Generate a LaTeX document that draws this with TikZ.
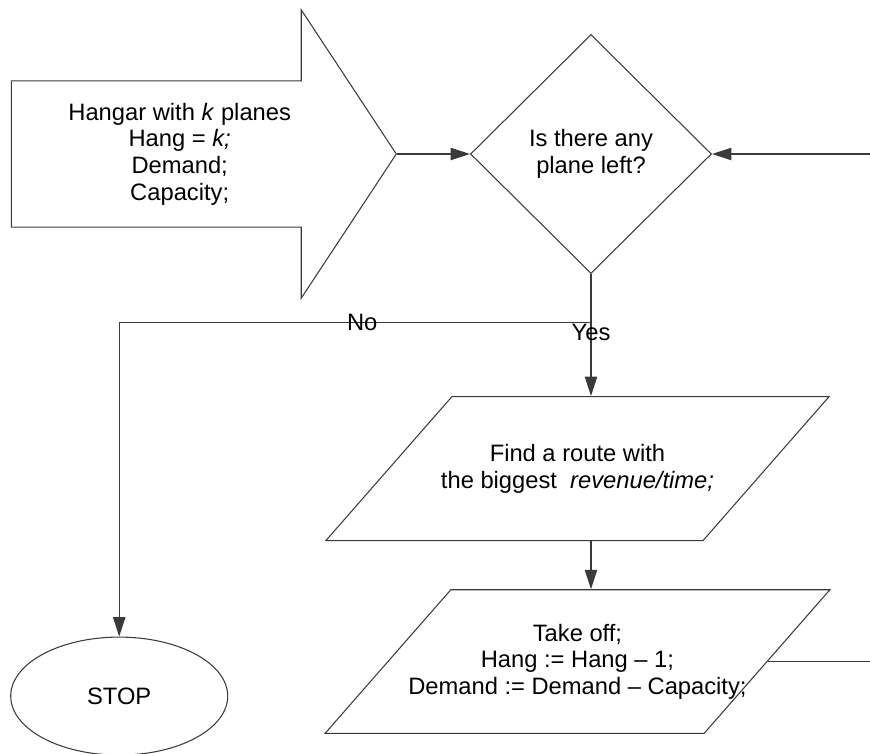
\documentclass[tikz,border=0pt]{standalone}
\usepackage{fontspec}
\setsansfont{Liberation Sans}
\usepackage{tikz}
\usetikzlibrary{positioning,shapes.geometric,shapes.arrows,arrows.meta}
\definecolor{linegray}{HTML}{3A3A3A}

\begin{document}
\begin{tikzpicture}[
    >={Triangle[length=11pt,width=7pt]},
    flow/.style={draw=linegray, line width=0.6pt},
    every node/.style={font=\sffamily\fontsize{13.5}{15.2}\selectfont, align=center, line width=0.6pt},
    box/.style={draw=linegray},
    decision/.style={box, diamond, inner sep=0pt, minimum width=4.82cm, minimum height=4.78cm},
    io/.style={box, trapezium, trapezium left angle=48.8, trapezium right angle=131.2,
        trapezium stretches=true},
    terminal/.style={box, ellipse, minimum width=4.34cm, minimum height=2.36cm},
    hangar/.style={box, single arrow, inner xsep=0.2cm, inner ysep=0.43cm, minimum height=7.7cm,
        single arrow head extend=1.42cm, single arrow tip angle=113.2}]

    \useasboundingbox (-11.82,-11.98) rectangle (5.58,3.08);

    \node[decision] (question) {Is there any\\plane left?};
    \node[hangar, left=1.46cm of question] (start) {Hangar with \textit{k} planes\\Hang = \textit{k;}\\Demand;\\Capacity;};
        \node[io, inner ysep=27.1pt, inner xsep=-0.22cm, below=2.44cm of question, xshift=-0.27cm] (route) {Find a route with\\the biggest\ \ \textit{revenue/time;}};
        \node[io, inner ysep=19.4pt, inner xsep=-0.85cm, below=0.96cm of route] (takeoff) {Take off;\\Hang := Hang -- 1;\\Demand := Demand -- Capacity;};
    \node[terminal, left=3.18cm of takeoff, yshift=-0.69cm] (stop) {STOP};

    \coordinate[below=0.96cm of question.south] (split);
    \coordinate (rim) at (5.58,0);

    \draw[flow, ->] (start) -- (question);
    \draw[flow] (question.south) -- (split);
    \draw[flow, ->] (split) -- node[at start, below, inner sep=1pt] {Yes} (split |- route.north);
    \draw[flow, ->] (split) -- node[pos=0.485, inner sep=0pt] {No} (split -| stop) -- (stop);
    \draw[flow, ->] (route.south -| split) -- (takeoff.north -| split);
    \draw[flow] (takeoff.east) -- (takeoff.east -| rim);
    \draw[flow, ->] (rim) -- (question.east);

\end{tikzpicture}
\end{document}
